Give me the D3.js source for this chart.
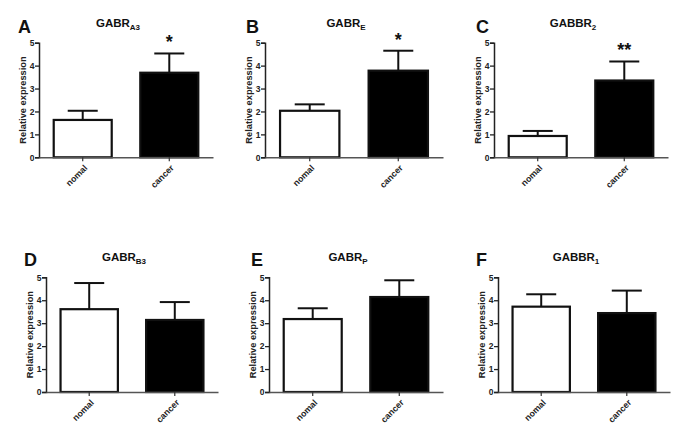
<!DOCTYPE html>
<html>
<head>
<meta charset="utf-8">
<script src="https://cdn.jsdelivr.net/npm/d3@7"></script>
<style>
  html, body { margin: 0; padding: 0; background: #fff; }
  svg { display: block; font-family: "Liberation Sans", Arial, sans-serif; }
</style>
</head>
<body>
<svg id="chart" width="685" height="439"></svg>
<script>
// ---- data ----
const categories = ["nomal", "cancer"];
const panelLetters = ["A", "B", "C", "D", "E", "F"];
const titleMain = ["GABR", "GABR", "GABBR", "GABR", "GABR", "GABBR"];
const titleSub = ["A3", "E", "2", "B3", "P", "1"];
const means = [
  [1.63, 3.69],
  [2.03, 3.78],
  [0.93, 3.35],
  [3.61, 3.14],
  [3.18, 4.14],
  [3.72, 3.44]
];
const errorTops = [
  [2.03, 4.53],
  [2.31, 4.65],
  [1.15, 4.18],
  [4.75, 3.92],
  [3.65, 4.87],
  [4.26, 4.42]
];
const significance = ["*", "*", "**", "", "", ""];
const yTicks = [0, 1, 2, 3, 4, 5];
const yLabel = "Relative expression";

// ---- layout (positions only) ----
const layout = [
  { x: 39,  y0: 157.3, y5: 42.7,  w: 174, lx: 18,  ly: 33 },
  { x: 265, y0: 157.3, y5: 42.7,  w: 178, lx: 246, ly: 33 },
  { x: 494, y0: 157.3, y5: 42.7,  w: 174, lx: 476, ly: 33 },
  { x: 46,  y0: 392,   y5: 277.3, w: 172, lx: 24,  ly: 266 },
  { x: 269, y0: 392,   y5: 277.3, w: 174, lx: 251, ly: 266 },
  { x: 498, y0: 392,   y5: 277.3, w: 172, lx: 476, ly: 266 }
];
const fills = { "nomal": "#ffffff", "cancer": "#000000" };

const svg = d3.select("#chart");

layout.forEach((L, i) => {
  const g = svg.append("g");
  const y = d3.scaleLinear().domain([0, 5]).range([L.y0, L.y5]);
  const x = d3.scaleBand().domain(categories).range([L.x, L.x + L.w])
    .paddingInner(0.33).paddingOuter(0.17);

  // bars
  categories.forEach((c, j) => {
    const v = means[i][j];
    g.append("rect")
      .attr("x", x(c))
      .attr("y", y(v))
      .attr("width", x.bandwidth())
      .attr("height", y(0) - y(v))
      .attr("fill", fills[c])
      .attr("stroke", "#111")
      .attr("stroke-width", 2.2);
    // error bar
    const cx = x(c) + x.bandwidth() / 2;
    const capHalf = 15;
    g.append("line")
      .attr("x1", cx).attr("x2", cx)
      .attr("y1", y(v)).attr("y2", y(errorTops[i][j]))
      .attr("stroke", "#111").attr("stroke-width", 2);
    g.append("line")
      .attr("x1", cx - capHalf).attr("x2", cx + capHalf)
      .attr("y1", y(errorTops[i][j])).attr("y2", y(errorTops[i][j]))
      .attr("stroke", "#111").attr("stroke-width", 2);
  });

  // significance
  if (significance[i]) {
    const cx = x("cancer") + x.bandwidth() / 2;
    g.append("text")
      .attr("x", cx)
      .attr("y", y(errorTops[i][1]) - 5)
      .attr("text-anchor", "middle")
      .attr("font-size", 18)
      .attr("font-weight", "bold")
      .attr("fill", "#111")
      .text(significance[i]);
  }

  // y axis
  const yAxis = d3.axisLeft(y).tickValues(yTicks).tickSize(4).tickPadding(0.5)
    .tickFormat(d3.format("d"));
  const ya = g.append("g").attr("transform", `translate(${L.x},0)`).call(yAxis);
  ya.select(".domain").attr("stroke", "#222").attr("stroke-width", 1.5);
  ya.selectAll(".tick line").attr("stroke", "#222").attr("stroke-width", 1.3);
  ya.selectAll(".tick text")
    .attr("font-size", 8.5).attr("font-weight", "bold").attr("fill", "#222")
    .attr("font-family", "Liberation Sans, Arial, sans-serif");

  // x axis baseline
  const xAxis = d3.axisBottom(x).tickSize(4).tickSizeOuter(0).tickFormat("");
  const xa = g.append("g").attr("transform", `translate(0,${L.y0})`).call(xAxis);
  xa.select(".domain").attr("stroke", "#555").attr("stroke-width", 1.5);
  xa.selectAll(".tick line").attr("stroke", "#333").attr("stroke-width", 1.2);
  categories.forEach(c => {
    const cx = x(c) + x.bandwidth() / 2;
    g.append("text")
      .attr("transform", `translate(${cx + 3},${L.y0 + 9}) rotate(-45)`)
      .attr("text-anchor", "end")
      .attr("dy", "0.35em")
      .attr("font-size", 8.8)
      .attr("font-weight", "bold")
      .attr("fill", "#222")
      .text(c);
  });

  // y label
  g.append("text")
    .attr("transform", `translate(${L.x - 13.5},${(L.y0 + L.y5) / 2}) rotate(-90)`)
    .attr("text-anchor", "middle")
    .attr("font-size", 9.3)
    .attr("font-weight", "bold")
    .attr("fill", "#222")
    .text(yLabel);

  // title
  const t = g.append("text")
    .attr("x", L.x + L.w / 2 - 8)
    .attr("y", L.y5 - 16)
    .attr("text-anchor", "middle")
    .attr("font-size", 11.5)
    .attr("font-weight", "bold")
    .attr("fill", "#111");
  t.append("tspan").text(titleMain[i]);
  t.append("tspan").attr("font-size", 8).attr("dy", 3).text(titleSub[i]);

  // panel letter
  g.append("text")
    .attr("x", L.lx).attr("y", L.ly)
    .attr("font-size", 18)
    .attr("font-weight", "bold")
    .attr("fill", "#111")
    .text(panelLetters[i]);
});
</script>
</body>
</html>
